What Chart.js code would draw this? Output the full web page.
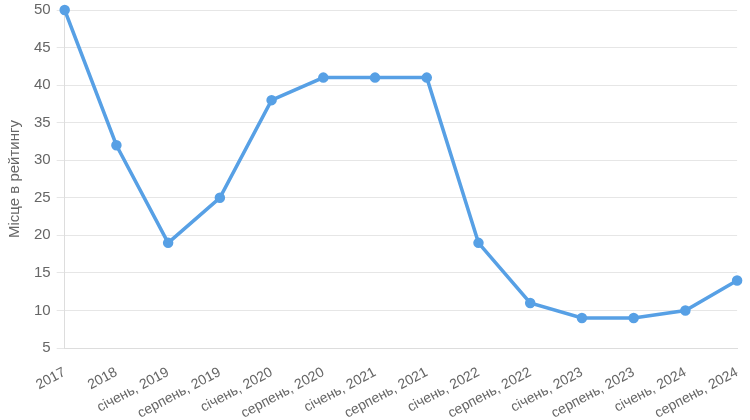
<!DOCTYPE html>
<html>
<head>
<meta charset="utf-8">
<script src="https://cdn.jsdelivr.net/npm/chart.js@4"></script>
<style>
  html, body { margin: 0; padding: 0; background: #fff; overflow: hidden; }
  #clip { width: 750px; height: 420px; overflow: hidden; }
  #wrap { width: 753px; height: 435px; margin-top: -5px; position: relative; }
</style>
</head>
<body>
<div id="clip"><div id="wrap"><canvas id="chart"></canvas></div></div>
<script>
const labels = ['2017', '2018', 'січень, 2019', 'серпень, 2019', 'січень, 2020', 'серпень, 2020',
  'січень, 2021', 'серпень, 2021', 'січень, 2022', 'серпень, 2022', 'січень, 2023',
  'серпень, 2023', 'січень, 2024', 'серпень, 2024'];
const rank = [50, 32, 19, 25, 38, 41, 41, 41, 19, 11, 9, 9, 10, 14];
const yTicks = [5, 10, 15, 20, 25, 30, 35, 40, 45, 50];

const LINE = '#57a0e5';
const TICK = '#666';
const GRID = '#e6e6e6';
const FONT = 'Liberation Sans, Arial, sans-serif';

new Chart(document.getElementById('chart'), {
  type: 'line',
  data: {
    labels,
    datasets: [{
      label: 'Місце в рейтингу',
      data: rank,
      borderColor: LINE,
      backgroundColor: LINE,
      borderWidth: 3.5,
      pointRadius: 3.5,
      clip: false,
      tension: 0
    }]
  },
  options: {
    responsive: true,
    maintainAspectRatio: false,
    animation: false,
    layout: { padding: { top: 2, right: 9, left: 2, bottom: 0 } },
    plugins: { legend: { display: false }, tooltip: { enabled: false } },
    scales: {
      x: {
        grid: { display: false },
        border: { color: '#ddd' },
        ticks: {
          color: TICK, autoSkip: false, maxRotation: 28, minRotation: 28, padding: 8,
          font: { family: FONT, size: 14 }
        }
      },
      y: {
        min: yTicks[0], max: yTicks[yTicks.length - 1],
        grid: { color: GRID },
        border: { color: '#ddd' },
        afterBuildTicks: (axis) => { axis.ticks = yTicks.map(v => ({ value: v })); },
        ticks: { color: TICK, padding: 6, font: { family: FONT, size: 15 } },
        title: {
          display: true, text: 'Місце в рейтингу', color: TICK,
          font: { family: FONT, size: 15 }
        }
      }
    }
  }
});
</script>
</body>
</html>
